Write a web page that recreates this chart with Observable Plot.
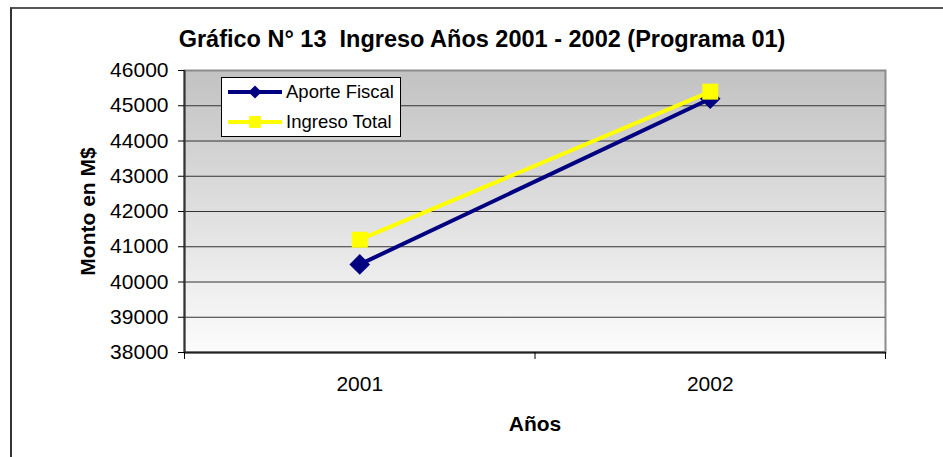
<!DOCTYPE html>
<html>
<head>
<meta charset="utf-8">
<script src="https://cdn.jsdelivr.net/npm/d3@7"></script>
<script src="https://cdn.jsdelivr.net/npm/@observablehq/plot@0.6"></script>
<style>
  body { margin: 0; background: #fff; }
  #wrap { position: relative; width: 943px; height: 457px; overflow: hidden;
          font-family: "Liberation Sans", Arial, sans-serif; color: #000; }
  #frame { position: absolute; left: 10px; top: 7px; width: 1200px; height: 800px;
           border-left: 2px solid #333; border-top: 2px solid #555; }
  #title { position: absolute; left: 0; width: 964px; top: 26px; text-align: center;
           font-weight: bold; font-size: 23.5px; white-space: pre; }
  #chart { position: absolute; left: 0; top: 0; }
  #legend { position: absolute; left: 221px; top: 77px; width: 180px; height: 60px;
            border: 1px solid #000; background: #fff; box-sizing: border-box; }
  .entry { position: absolute; left: 5px; height: 22px; display: flex; align-items: center; }
  .entry span { font-size: 18.5px; margin-left: 3px; white-space: nowrap; }
  g[aria-label="y-axis label"] text, g[aria-label="x-axis label"] text { font-weight: bold; font-size: 21px; }
</style>
</head>
<body>
<div id="wrap">
  <div id="frame"></div>
  <div id="chart"></div>
  <div id="title"></div>
  <div id="legend"></div>
</div>
<script>
const titleText = "Gráfico N° 13  Ingreso Años 2001 - 2002 (Programa 01)";
const years = ["2001", "2002"];
const aporteFiscal = [40500, 45200];
const ingresoTotal = [41200, 45400];
const yTicks = [38000, 39000, 40000, 41000, 42000, 43000, 44000, 45000, 46000];
const seriesNames = ["Aporte Fiscal", "Ingreso Total"];
const seriesColors = ["#000080", "#ffff00"];
const seriesSymbols = ["diamond2", "square"];
const seriesValues = [aporteFiscal, ingresoTotal];

document.getElementById("title").textContent = titleText;

const rows = seriesNames.map((name, s) =>
  years.map((year, i) => ({ series: name, year, xi: i + 0.5, value: seriesValues[s][i] }))
);

const seriesMarks = rows.flatMap((data, s) => [
  Plot.line(data, { x: "xi", y: "value", stroke: seriesColors[s], strokeWidth: 4 }),
  Plot.dot(data, { x: "xi", y: "value", symbol: seriesSymbols[s], r: s === 0 ? 9.3 : 9,
                   fill: seriesColors[s], stroke: "none" })
]);

const chart = Plot.plot({
  width: 943,
  height: 457,
  marginLeft: 184,
  marginRight: 58,
  marginTop: 70,
  marginBottom: 105,
  style: { fontFamily: '"Liberation Sans", Arial, sans-serif', fontSize: "21px", color: "#000", background: "transparent" },
  x: { domain: [0, years.length] },
  y: { domain: [yTicks[0], yTicks[yTicks.length - 1]] },
  marks: [
    Plot.frame({ fill: "url(#plotbg)", stroke: "#8c8c8c", strokeWidth: 2 }),
    Plot.gridY(yTicks.slice(1, -1), { stroke: "#333", strokeOpacity: 1, strokeWidth: 1 }),
    Plot.ruleX([0], { stroke: "#333", strokeWidth: 2 }),
    Plot.ruleY([yTicks[0]], { stroke: "#222", strokeWidth: 2 }),
    Plot.axisY({ ticks: yTicks, tickFormat: d3.format("d"), tickSize: 6, tickPadding: 10,
                 label: "Monto en M$", labelAnchor: "center", labelOffset: 104, labelArrow: "none",
                 stroke: "#000", fontSize: 21 }),
    Plot.axisX({ ticks: d3.range(0, years.length + 1), tickFormat: () => "", tickSize: 7,
                 label: null, stroke: "#000" }),
    Plot.axisX({ ticks: years.map((_, i) => i + 0.5), tickFormat: d => years[Math.floor(d)],
                 tickSize: 0, tickPadding: 24, label: "Años", labelAnchor: "center",
                 labelOffset: 78, labelArrow: "none", fontSize: 21 }),
    ...seriesMarks
  ]
});

const svg = d3.select(chart);
const grad = svg.insert("defs", ":first-child").append("linearGradient")
  .attr("id", "plotbg").attr("x1", 0).attr("y1", 0).attr("x2", 0).attr("y2", 1);
grad.append("stop").attr("offset", "0%").attr("stop-color", "#c2c2c2");
grad.append("stop").attr("offset", "100%").attr("stop-color", "#fcfcfc");

document.getElementById("chart").appendChild(chart);

// legend
const legend = d3.select("#legend");
seriesNames.forEach((name, s) => {
  const e = legend.append("div").attr("class", "entry").style("top", (3 + s * 30) + "px");
  const sw = e.append("svg").attr("width", 56).attr("height", 22);
  sw.append("line").attr("x1", 1).attr("x2", 55).attr("y1", 11).attr("y2", 11)
    .attr("stroke", seriesColors[s]).attr("stroke-width", 4);
  const sym = s === 0 ? d3.symbolDiamond2 : d3.symbolSquare;
  sw.append("path").attr("transform", "translate(28,11)")
    .attr("d", d3.symbol(sym, s === 0 ? 110 : 140)())
    .attr("fill", seriesColors[s]);
  e.append("span").text(name);
});
</script>
</body>
</html>
